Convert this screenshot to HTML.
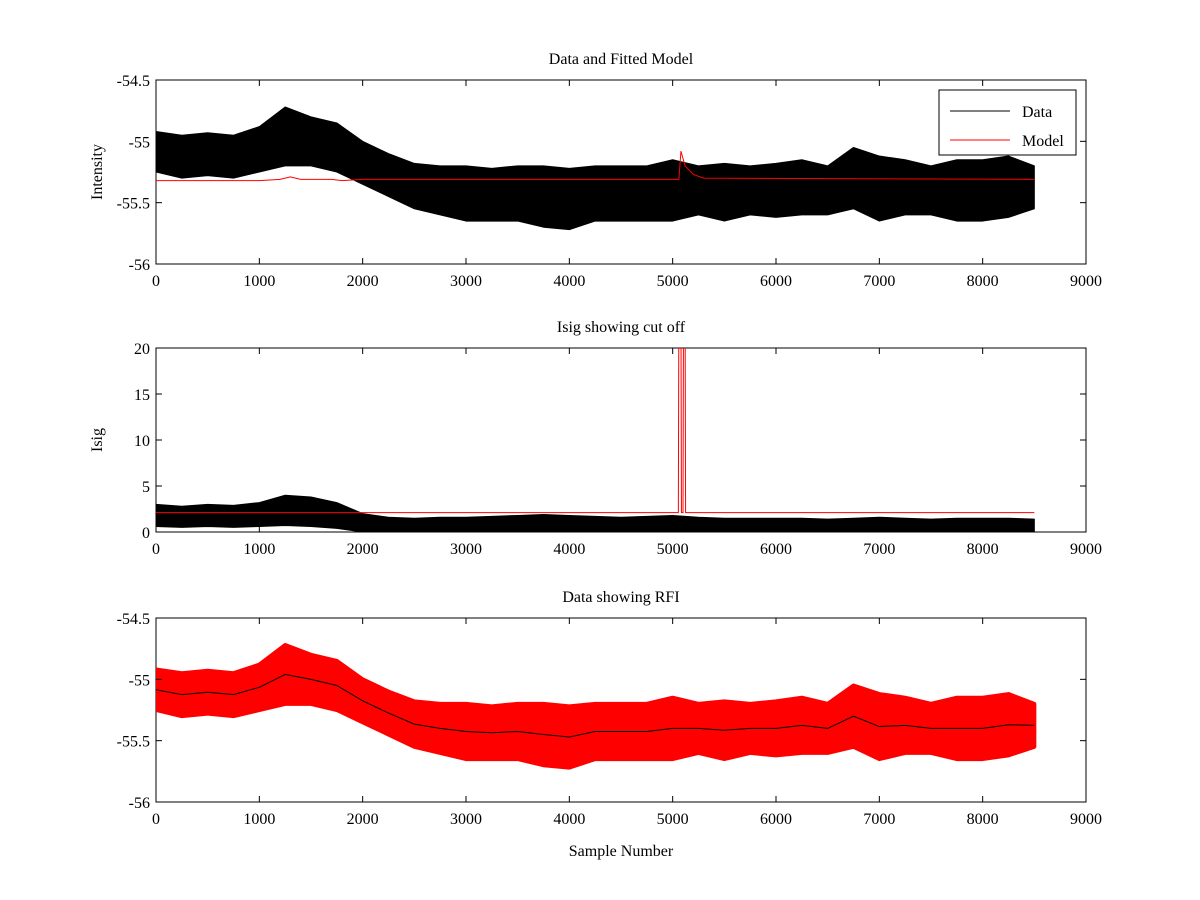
<!DOCTYPE html>
<html><head><meta charset="utf-8"><style>
body{margin:0;background:#fff}
svg{display:block;font-family:"Liberation Serif",serif}
text{font-size:16px;fill:#000}
</style></head><body>
<svg id="c" width="1200" height="900" xmlns="http://www.w3.org/2000/svg"></svg>
<script>
const sampleX=[0,250,500,750,1000,1250,1500,1750,2000,2250,2500,2750,3000,3250,3500,3750,4000,4250,4500,4750,5000,5250,5500,5750,6000,6250,6500,6750,7000,7250,7500,7750,8000,8250,8500];
const dataHi=[-54.92,-54.95,-54.93,-54.95,-54.88,-54.72,-54.8,-54.85,-55.0,-55.1,-55.18,-55.2,-55.2,-55.22,-55.2,-55.2,-55.22,-55.2,-55.2,-55.2,-55.15,-55.2,-55.18,-55.2,-55.18,-55.15,-55.2,-55.05,-55.12,-55.15,-55.2,-55.15,-55.15,-55.12,-55.2];
const dataLo=[-55.25,-55.3,-55.28,-55.3,-55.25,-55.2,-55.2,-55.25,-55.35,-55.45,-55.55,-55.6,-55.65,-55.65,-55.65,-55.7,-55.72,-55.65,-55.65,-55.65,-55.65,-55.6,-55.65,-55.6,-55.62,-55.6,-55.6,-55.55,-55.65,-55.6,-55.6,-55.65,-55.65,-55.62,-55.55];
const modelX=[0,1000,1200,1300,1400,1700,1800,2000,5060,5080,5120,5200,5300,8500];
const modelY=[-55.32,-55.32,-55.31,-55.29,-55.31,-55.31,-55.32,-55.31,-55.31,-55.08,-55.2,-55.27,-55.3,-55.31];
const isigHi=[3.0,2.8,3.0,2.9,3.2,4.0,3.8,3.2,2.0,1.6,1.5,1.6,1.6,1.7,1.8,1.9,1.8,1.7,1.6,1.7,1.8,1.6,1.5,1.5,1.5,1.5,1.4,1.5,1.6,1.5,1.4,1.5,1.5,1.5,1.4];
const isigLo=[0.6,0.5,0.6,0.5,0.6,0.7,0.6,0.4,0,0,0,0,0,0,0,0,0,0,0,0,0,0,0,0,0,0,0,0,0,0,0,0,0,0,0];
const cutX=[0,5055,5060,5080,5085,5100,5105,5120,5125,8500];
const cutY=[2.1,2.1,25,25,2.1,2.1,25,25,2.1,2.1];
const xTicks=[0,1000,2000,3000,4000,5000,6000,7000,8000,9000];
const yTicks1=[-54.5,-55,-55.5,-56];
const yTicks2=[0,5,10,15,20];

const svg=document.getElementById('c');
const NS='http://www.w3.org/2000/svg';
function mk(t,a,p){const e=document.createElementNS(NS,t);for(const k in a)e.setAttribute(k,a[k]);(p||svg).appendChild(e);return e;}
const L=156,R=1086;
const xs=v=>L+(v-0)/9000*(R-L);
function panel(name,top,bot,ymin,ymax,yt,title,ylab,xlab){
  const g=mk('g',{});
  
  
  const ys=v=>bot-(v-ymin)/(ymax-ymin)*(bot-top);
  const cid='clip'+name;
  const cp=mk('clipPath',{id:cid},g);mk('rect',{x:L,y:top,width:R-L,height:bot-top},cp);
  const plot=mk('g',{'clip-path':'url(#'+cid+')'},g);
  
  
  const frame=mk('rect',{x:L,y:top,width:R-L,height:bot-top,fill:'#fff',stroke:'#000','stroke-width':1},g);
  
  
  g.appendChild(plot);
  xTicks.forEach(t=>{const x=xs(t);
    mk('line',{x1:x,y1:bot,x2:x,y2:bot-6,stroke:'#000'},g);mk('line',{x1:x,y1:top,x2:x,y2:top+6,stroke:'#000'},g);
    const tx=mk('text',{x:x,y:bot+22,'text-anchor':'middle'},g);tx.textContent=t;
    
    });
  yt.forEach(t=>{const y=ys(t);
    mk('line',{x1:L,y1:y,x2:L+6,y2:y,stroke:'#000'},g);mk('line',{x1:R,y1:y,x2:R-6,y2:y,stroke:'#000'},g);
    const tx=mk('text',{x:L-6,y:y+6,'text-anchor':'end'},g);tx.textContent=t;
    
    });
  const tt=mk('text',{x:(L+R)/2,y:top-16,'text-anchor':'middle'},g);tt.textContent=title;
  
  
  const yl=mk('text',{x:0,y:0,'text-anchor':'middle',transform:'translate('+(L-54)+','+((top+bot)/2)+') rotate(-90)'},g);yl.textContent=ylab;
  
  
  if(xlab){const xl=mk('text',{x:(L+R)/2,y:bot+54,'text-anchor':'middle'},g);xl.textContent=xlab;
    
    }
  return {plot,ys};
}
function band(p,ys,hi,lo,fill,stroke,sw){
  let d='M'+sampleX.map((s,i)=>xs(s)+','+ys(hi[i])).join('L');
  for(let i=sampleX.length-1;i>=0;i--)d+='L'+xs(sampleX[i])+','+ys(lo[i]);
  const e=mk('path',{d:d+'Z',fill:fill,stroke:stroke,'stroke-width':sw,'stroke-linejoin':'round'},p);
  return e;
}
function line(p,ys,X,Y,col){
  const e=mk('polyline',{points:X.map((s,i)=>xs(s)+','+ys(Y[i])).join(' '),fill:'none',stroke:col,'stroke-width':1},p);
  return e;
}
// panel 1
let P=panel('data-fitted-model',80,264,-56,-54.5,yTicks1,'Data and Fitted Model','Intensity');
let e=band(P.plot,P.ys,dataHi,dataLo,'#000','#000',1);


e=line(P.plot,P.ys,modelX,modelY,'#f00');


// legend
const lg=mk('g',{});


mk('rect',{x:939,y:90,width:137,height:65,fill:'#fff',stroke:'#000'},lg);
mk('line',{x1:950,y1:111,x2:1010,y2:111,stroke:'#000'},lg);
mk('line',{x1:950,y1:140,x2:1010,y2:140,stroke:'#f00'},lg);
let t=mk('text',{x:1022,y:117},lg);t.textContent='Data';


t=mk('text',{x:1022,y:146},lg);t.textContent='Model';


// panel 2
P=panel('isig-cutoff',348,532,0,20,yTicks2,'Isig showing cut off','Isig');
e=band(P.plot,P.ys,isigHi,isigLo,'#000','#000',1);


e=line(P.plot,P.ys,cutX,cutY,'#f00');


// panel 3
P=panel('data-rfi',618,802,-56,-54.5,yTicks1,'Data showing RFI','','Sample Number');
e=band(P.plot,P.ys,dataHi,dataLo,'#f00','#f00',4);


e=line(P.plot,P.ys,sampleX,sampleX.map((s,i)=>(dataHi[i]+dataLo[i])/2),'#000');


</script>
</body></html>
